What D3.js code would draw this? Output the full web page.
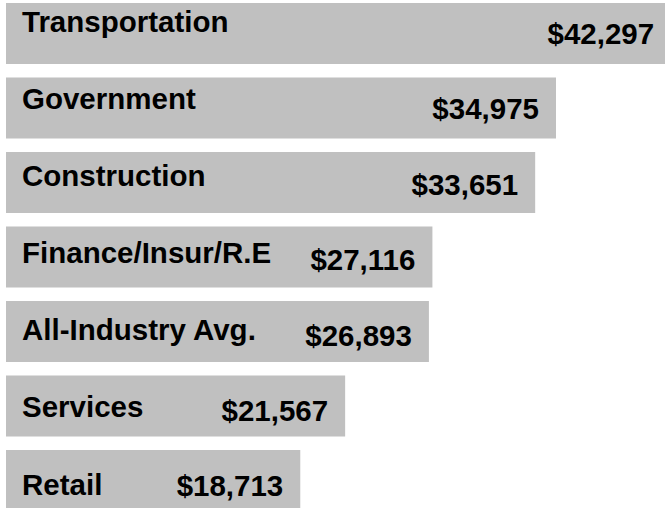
<!DOCTYPE html>
<html>
<head>
<meta charset="utf-8">
<script src="https://cdn.jsdelivr.net/npm/d3@7"></script>
<style>
    html, body { margin: 0; padding: 0; background: #fff; }
    svg { display: block; }
</style>
</head>
<body>
<div id="chart"></div>
<script>
// Average pay by industry
const categories = ["Transportation", "Government", "Construction", "Finance/Insur/R.E",
    "All-Industry Avg.", "Services", "Retail"];
const values = [42297, 34975, 33651, 27116, 26893, 21567, 18713];

const width = 665;
const height = 508;

const svg = d3.select("#chart")
    .append("svg")
    .attr("width", width)
    .attr("height", height)
    .attr("viewBox", [0, 0, width, height]);

// Bars start at x=6, $34,975 ends at ~556
const x = d3.scaleLinear()
    .domain([0, 34975])
    .range([6, 556]);

const y = d3.scaleBand()
    .domain(categories)
    .range([3, 511])
    .paddingInner(0.181)
    .paddingOuter(0);

const rows = categories.map((c, i) => ({ name: c, value: values[i], i: i }));

// Create bars
svg.append("g")
    .selectAll("rect")
    .data(rows)
    .enter().append("rect")
    .attr("x", x(0))
    .attr("y", d => y(d.name))
    .attr("width", d => x(d.value) - x(0))
    .attr("height", y.bandwidth())
    .attr("fill", "#c0c0c0");

const fmt = d3.format("$,");

// Category labels (text boxes drift slightly lower down the chart)
svg.append("g")
    .selectAll("text")
    .data(rows)
    .enter().append("text")
    .attr("x", 22)
    .attr("y", d => y(d.name) + 29 + d.i * 2.6)
    .attr("font-family", "'Liberation Sans', Arial, sans-serif")
    .attr("font-weight", "bold")
    .attr("font-size", "29.5px")
    .attr("fill", "#000")
    .text(d => d.name);

// Value labels
svg.append("g")
    .selectAll("text")
    .data(rows)
    .enter().append("text")
    .attr("x", d => x(d.value) - 17)
    .attr("y", d => y(d.name) + 41 + d.i * 0.9)
    .attr("text-anchor", "end")
    .attr("font-family", "'Liberation Sans', Arial, sans-serif")
    .attr("font-weight", "bold")
    .attr("font-size", "29.5px")
    .attr("fill", "#000")
    .text(d => fmt(d.value));
</script>
</body>
</html>
